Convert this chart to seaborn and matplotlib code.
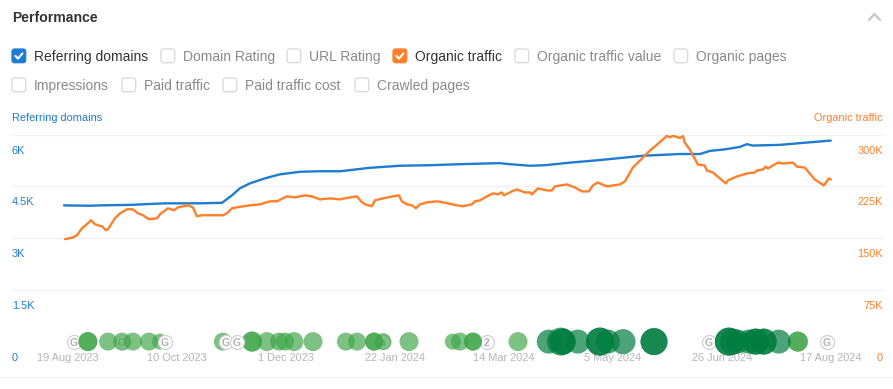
import matplotlib
matplotlib.use("Agg")
import matplotlib.pyplot as plt
import matplotlib.transforms as mtransforms
from matplotlib.patches import FancyBboxPatch
import numpy as np
import seaborn as sns

# days counted from 19 Aug 2023
tick_days = [0, 52, 104, 156, 208, 260, 312, 364]
tick_labels = ["19 Aug 2023", "10 Oct 2023", "1 Dec 2023", "22 Jan 2024",
               "14 Mar 2024", "5 May 2024", "26 Jun 2024", "17 Aug 2024"]

domains_ticks = [0, 1500, 3000, 4500, 6000]
domains_labels = ["0", "1.5K", "3K", "4.5K", "6K"]
traffic_ticks = [0, 75, 150, 225, 300]
traffic_labels = ["0", "75K", "150K", "225K", "300K"]

domains_days = [-1.9, 10.5, 15.3, 29.6, 46.3, 63, 73.5, 78.2, 82, 86.8, 94, 101.1, 110.7,
                120.2, 129.7, 132.1, 144, 158.4, 172.7, 187, 206, 210.8, 220.4, 227.5,
                239.5, 253.8, 274.3, 291.9, 301.5, 306.2, 313.4, 320.5, 323.9, 326.7,
                339.6, 349.2, 363.9]
domains_values = [3950, 3940, 3950, 3965, 4010, 4010, 4025, 4240, 4445, 4590, 4735, 4850, 4925,
                  4940, 4940, 4955, 5040, 5100, 5115, 5145, 5175, 5145, 5100, 5115,
                  5190, 5265, 5390, 5440, 5440, 5530, 5575, 5645, 5725, 5685,
                  5705, 5755, 5830]

traffic_days = [-1.4, 1.9, 4.3, 6.7, 8.1, 11, 12.9, 15.3, 16.2, 18.1, 19.1, 22.4, 24.8, 28.1, 31,
                33.4, 35.8, 38.6, 42.5, 43.9, 47.7, 50.6, 52.5, 54.9, 57.2, 59.6, 61.5, 63.9,
                69.2, 73.9, 75.8, 78.2, 80.6, 86.8, 91.6, 96.4, 99.7, 104.5, 108.3, 113, 116.4,
                120.2, 125, 129.7, 134.5, 137.9, 139.8, 141.7, 145, 146.4, 150.3, 155, 157.9,
                159.3, 161.7, 164.1, 166, 167.9, 171.2, 176, 178.9, 185.6, 188.4, 192.7, 194.1,
                196.5, 199.9, 202.7, 205.1, 207, 208, 211.8, 214.2, 218, 220.4, 221.3, 224.2,
                228.5, 230.9, 232.3, 238, 241.8, 245.2, 248.5, 250.4, 252.8, 253.8, 257.1, 263.3,
                265.7, 269.5, 274.3, 277.6, 281, 285.8, 287.2, 288.6, 291.9, 293.4, 294.3, 296.7,
                300.5, 303.8, 304.8, 307.7, 313.9, 314.8, 319.1, 323.9, 327.7, 328.7, 331.5,
                332.9, 333.9, 338.7, 341.1, 345.8, 347.7, 351.5, 356.3, 360.6, 363, 363.9]
traffic_values = [148.6, 150.4, 154.3, 164.4, 167.7, 176, 170.2, 167.7, 167.3, 161.5, 163, 178.8, 186,
                  191.8, 191.8, 186, 183.2, 177.4, 178.8, 184.6, 193.3, 190.4, 194.7, 196.2, 197.6,
                  194.7, 181.7, 183.2, 183.2, 183.2, 186, 193.3, 194.7, 197.6, 199, 203.4, 203.4,
                  210.6, 209.1, 212, 210.6, 206.2, 207.7, 206.2, 209.1, 210.6, 203.4, 199, 196.2,
                  204.8, 207.7, 210.6, 212, 203.4, 199, 197.6, 193.3, 199, 201.9, 203.4, 201.9,
                  197.6, 196.2, 199, 203.4, 204.8, 210.6, 214.9, 213.5, 216.3, 212, 217.8, 220.7,
                  216.3, 216.3, 213.5, 222.1, 219.2, 219.2, 225, 227.9, 223.6, 217.8, 217.8, 226.4,
                  230.8, 229.3, 225, 227.9, 232.2, 252.4, 266.8, 276.9, 285.6, 298.5, 296.1, 298.5,
                  295.2, 298, 288.5, 278.4, 256.7, 255.3, 248.1, 245.2, 229.3, 233.7, 239.4,
                  243.8, 245.2, 248.1, 249.5, 253.8, 251, 259.6, 258.2, 259.6, 253.8, 252.4, 235.1,
                  226.4, 236.5, 235.1]

light_days = [9.5, 9.5, 19.1, 25.8, 31, 38.6, 43.9, 73.9, 87.8, 87.8, 94.9, 100.6, 103.5, 107.8,
              116.9, 132.6, 137.9, 146, 146, 150.3, 162.7, 183.6, 187, 193.2, 193.2, 214.7, 348.2, 348.2]
light_radius = [9.5, 9.5, 9, 9, 9, 9, 8, 9, 10, 10, 9.5, 9, 9, 9.5,
                9.5, 9, 9, 9, 9, 8.5, 9.5, 8, 9, 9, 9, 9.5, 10, 10]
dark_days = [229.4, 235.1, 236, 236, 243.2, 253.8, 253.8, 257.6, 264.8, 279.6, 279.6, 315.3, 315.3,
             317.2, 319.6, 324.8, 328.1, 328.1, 331.9, 331.9, 339.1]
dark_radius = [12, 14, 13, 13, 12, 14, 14, 12, 12.5, 13.5, 13.5, 14, 14,
               13, 12, 12, 13, 13, 13, 13, 12]

note_days = [2.9, 25.8, 150.3, 199.9, 305.8, 362]
note_letters = ["G", "G", "a", "2", "G", "G"]
top_note_days = [46.3, 75.4, 80.6]
top_note_letters = ["G", "G", "G"]

BLUE = "#1f7ccf"
ORANGE = "#ff7f2a"
GRID = "#f1f1f1"
FS = 7.9

sns.set_theme(style="white")
plt.rcParams["font.family"] = ["Liberation Sans", "DejaVu Sans"]

W, H = 893, 389
fig = plt.figure(figsize=(W / 100, H / 100), dpi=100)
fig.patch.set_facecolor("white")

# chart area in pixels: x 12-883, y 134.7-341.6
ax = fig.add_axes([12 / W, 1 - 341.6 / H, 871 / W, 206.9 / H])
ax.set_xlim((12 - 68) / 2.096, (883 - 68) / 2.096)
ax.set_ylim(0, 6000)
ax2 = ax.twinx()
ax2.set_ylim(0, 300)

for spine_ax in [ax, ax2]:
    for s in spine_ax.spines.values():
        s.set_visible(False)

ax.set_yticks(domains_ticks)
ax.set_yticklabels(domains_labels, color=BLUE, fontsize=FS, ha="left", va="center")
ax.tick_params(axis="y", length=0, pad=0)
ax2.set_yticks(traffic_ticks)
ax2.set_yticklabels(traffic_labels, color=ORANGE, fontsize=FS, ha="right", va="center")
ax2.tick_params(axis="y", length=0, pad=0)
ax.set_xticks(tick_days)
ax.set_xticklabels(tick_labels, color="#b5b5b5", fontsize=FS)
ax.tick_params(axis="x", length=0, pad=8.5)
ax.grid(axis="y", color=GRID, linewidth=1.0)
ax.grid(axis="x", visible=False)
ax2.grid(False)

down = mtransforms.ScaledTranslation(0, -16 / 100, fig.dpi_scale_trans)
for lab in ax.get_yticklabels() + ax2.get_yticklabels():
    lab.set_transform(lab.get_transform() + down)

# Lines
sns.lineplot(x=traffic_days, y=traffic_values, ax=ax2, color=ORANGE, linewidth=1.7,
             errorbar=None, sort=False, zorder=3)
sns.lineplot(x=domains_days, y=domains_values, ax=ax, color=BLUE, linewidth=1.7,
             errorbar=None, sort=False, zorder=3)
ax.set_xlabel("")
ax.set_ylabel("")
ax2.set_xlabel("")
ax2.set_ylabel("")


def area(radius):
    return (2 * np.array(radius) * 0.72) ** 2


def draw_notes(days, letters, z):
    sns.scatterplot(x=days, y=[0] * len(days), ax=ax2, s=area(7), color="white",
                    edgecolor="#d2d2d2", linewidth=0.9, zorder=z, clip_on=False, legend=False)
    for d, letter in zip(days, letters):
        ax2.text(d, 0, letter, ha="center", va="center_baseline", fontsize=7.5, fontweight="bold",
                 color="#b0b0b0", zorder=z + 0.1, clip_on=False)


draw_notes(note_days, note_letters, 4)
sns.scatterplot(x=light_days, y=[0] * len(light_days), ax=ax2, s=area(light_radius),
                color="#3fa648", alpha=0.68, linewidth=0, zorder=5, clip_on=False, legend=False)
sns.scatterplot(x=dark_days, y=[0] * len(dark_days), ax=ax2, s=area(dark_radius),
                color="#007d3f", alpha=0.7, linewidth=0, zorder=5, clip_on=False, legend=False)
draw_notes(top_note_days, top_note_letters, 6)

# Panel header and checkboxes, in pixels
ui = fig.add_axes([0, 0, 1, 1], facecolor="none")
ui.set_xlim(0, W)
ui.set_ylim(H, 0)
ui.axis("off")

ui.text(12, 17.5, "Performance", fontsize=10.1, fontweight="bold", color="#333333",
        ha="left", va="center")
ui.plot([869, 874.5, 880], [20, 14, 20], color="#c8c8c8", linewidth=1.6)
ui.plot([0, W], [377, 377], color=GRID, linewidth=1.0)

options = [
    ("Referring domains", 12, 56, BLUE),
    ("Domain Rating", 161, 56, None),
    ("URL Rating", 287, 56, None),
    ("Organic traffic", 393, 56, ORANGE),
    ("Organic traffic value", 515, 56, None),
    ("Organic pages", 674, 56, None),
    ("Impressions", 12, 85, None),
    ("Paid traffic", 122, 85, None),
    ("Paid traffic cost", 223, 85, None),
    ("Crawled pages", 355, 85, None),
]
for label, bx, by, col in options:
    ui.add_patch(FancyBboxPatch((bx, by - 7), 13.7, 13.7, boxstyle="round,pad=0,rounding_size=2.5",
                                facecolor=col if col else "white",
                                edgecolor=col if col else "#d8d8d8", linewidth=0.9))
    if col:
        ui.plot([bx + 3.4, bx + 6, bx + 10.4], [by, by + 2.6, by - 2.6], color="white", linewidth=1.5)
    ui.text(bx + 22, by + 0.9, label, fontsize=10, ha="left", va="center",
            color="#333333" if col else "#8a8a8a")

ui.text(12, 118, "Referring domains", fontsize=FS, color=BLUE, ha="left", va="center")
ui.text(883, 118, "Organic traffic", fontsize=FS, color=ORANGE, ha="right", va="center")

fig.savefig("out.png", dpi=100)
